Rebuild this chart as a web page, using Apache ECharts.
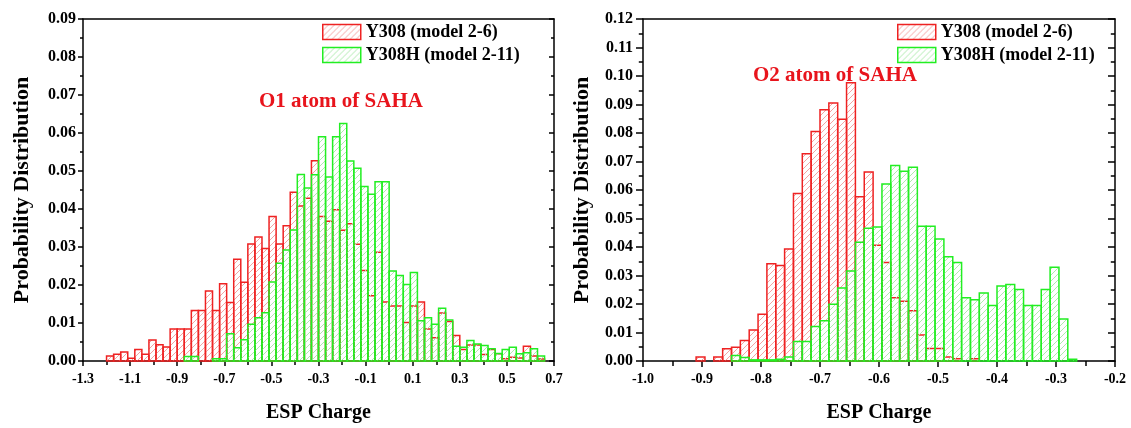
<!DOCTYPE html>
<html><head><meta charset="utf-8">
<script src="https://cdn.jsdelivr.net/npm/echarts@6/dist/echarts.min.js"></script>
<style>html,body{margin:0;padding:0;background:#fff;}#c{width:1131px;height:428px;}</style>
</head><body><div id="c"></div>
<script>
// ---- data ----
const seriesNames = ['Y308 (model 2-6)', 'Y308H (model 2-11)'];
const panelTitles = ['O1 atom of SAHA', 'O2 atom of SAHA'];
const xAxisName = 'ESP Charge';
const yAxisName = 'Probability Distribution';

// O1 panel: histogram bins start at -1.2, width 0.03
const o1BinStart = -1.2, o1BinWidth = 0.03;
const o1Y308 = [0.0013,0.0018,0.0024,0.0007,0.0030,0.0018,0.0055,0.0043,0.0037,0.0084,
  0.0084,0.0084,0.0133,0.0133,0.0184,0.0133,0.0203,0.0154,0.0268,0.0207,
  0.0308,0.0326,0.0296,0.0380,0.0308,0.0356,0.0444,0.0408,0.0428,0.0527,
  0.0380,0.0368,0.0398,0.0344,0.0361,0.0307,0.0238,0.0172,0.0286,0.0155,
  0.0145,0.0145,0.0101,0.0145,0.0155,0.0084,0.0061,0.0126,0.0104,0.0067,
  0.0030,0.0042,0.0042,0.0017,0.0030,0.0019,0.0006,0.0010,0.0008,0.0039,
  0.0013,0.0005];
const o1Y308H = [0,0,0,0,0,0,0,0,0,0,
  0,0.0012,0.0012,0,0,0.0006,0.0006,0.0072,0.0035,0.0056,
  0.0097,0.0114,0.0127,0.0208,0.0257,0.0292,0.0345,0.0491,0.0455,0.0490,
  0.0590,0.0484,0.0590,0.0625,0.0526,0.0507,0.0459,0.0439,0.0472,0.0472,
  0.0237,0.0225,0.0201,0.0233,0.0106,0.0114,0.0097,0.0139,0.0108,0.0039,
  0.0036,0.0054,0.0045,0.0041,0.0032,0.0020,0.0030,0.0036,0.0019,0.0022,
  0.0032,0.0013];
const o1XTicks = [-1.3,-1.1,-0.9,-0.7,-0.5,-0.3,-0.1,0.1,0.3,0.5,0.7];
const o1YTicks = [0,0.01,0.02,0.03,0.04,0.05,0.06,0.07,0.08,0.09];

// O2 panel: bins start at -0.91, width 0.015
const o2BinStart = -0.91, o2BinWidth = 0.015;
const o2Y308 = [0.0014,0,0.0014,0.0043,0.0048,0.0072,0.0109,0.0164,0.0341,0.0335,
  0.0393,0.0588,0.0727,0.0805,0.0882,0.0905,0.0848,0.0976,0.0576,0.0663,
  0.0406,0.0346,0.0222,0.0210,0.0176,0.0091,0.0044,0.0044,0.0014,0.0008,
  0,0.0008,0,0,0,0,0,0,0,0,0,0,0];
const o2Y308H = [0,0,0,0,0.0019,0.0012,0.0004,0.0004,0.0004,0.0006,
  0.0014,0.0068,0.0068,0.0121,0.0141,0.0199,0.0256,0.0316,0.0417,0.0466,
  0.0470,0.0621,0.0686,0.0666,0.0680,0.0473,0.0473,0.0428,0.0366,0.0346,
  0.0222,0.0215,0.0239,0.0195,0.0263,0.0268,0.0251,0.0195,0.0195,0.0251,
  0.0329,0.0147,0.0006];
const o2XTicks = [-1.0,-0.9,-0.8,-0.7,-0.6,-0.5,-0.4,-0.3,-0.2];
const o2YTicks = [0,0.01,0.02,0.03,0.04,0.05,0.06,0.07,0.08,0.09,0.10,0.11,0.12];

// ---- styling ----
const FONT = "'Liberation Serif','Times New Roman',serif";
const RED = '#ee2222', GREEN = '#22ee22';
function hatch(color){
  const c = document.createElement('canvas'); c.width = 6; c.height = 6;
  const g = c.getContext('2d'); g.strokeStyle = color; g.lineWidth = 1;
  g.beginPath();
  g.moveTo(0,6); g.lineTo(6,0);
  g.moveTo(-1,1); g.lineTo(1,-1);
  g.moveTo(5,7); g.lineTo(7,5);
  g.stroke();
  return {image: c, repeat: 'repeat'};
}
const redFill = hatch('#f4a3a3');
const greenFill = hatch('#aeeaae');

function toBins(start, w, vals){
  return vals.map((v,i)=>[start + i*w, start + (i+1)*w, v]);
}
function renderer(fill, stroke){
  return function(params, api){
    const y = api.value(2);
    if (!y) return null;
    const p0 = api.coord([api.value(0), 0]);
    const p1 = api.coord([api.value(1), y]);
    return {type:'rect', shape:{x:p0[0], y:p1[1], width:p1[0]-p0[0], height:p0[1]-p1[1]},
      style:{fill: fill, stroke: stroke, lineWidth: 1.5}};
  };
}

const grids = [
  {left: 83, top: 19, width: 471, height: 347},
  {left: 643, top: 19, width: 472, height: 347}
];
function xAxes(gi, ticks, step, tickLen, minorCount){
  return [{
    type:'value', gridIndex: gi, min: ticks[0], max: ticks[ticks.length-1], interval: step,
    axisLine:{show:true, onZero:false, lineStyle:{color:'#000', width:1.5}},
    axisTick:{show:true, length: tickLen, lineStyle:{color:'#000', width:1.5}},
    minorTick:{show:true, splitNumber: minorCount, length: tickLen-1, lineStyle:{color:'#000', width:1.5}},
    splitLine:{show:false},
    axisLabel:{margin: 11, color:'#000', fontFamily: FONT, fontWeight:'bold', fontSize: 14,
      formatter: v => v.toFixed(1)},
    name: xAxisName, nameLocation:'middle', nameGap: 42,
    nameTextStyle:{color:'#000', fontFamily: FONT, fontWeight:'bold', fontSize: 20}
  },{
    type:'value', gridIndex: gi, position:'top', min: ticks[0], max: ticks[ticks.length-1],
    axisLine:{show:true, onZero:false, lineStyle:{color:'#000', width:1.5}},
    axisTick:{show:false}, axisLabel:{show:false}, splitLine:{show:false}
  }];
}
function yAxes(gi, ticks, tickLen, margin){
  const base = {
    type:'value', gridIndex: gi, min: ticks[0], max: ticks[ticks.length-1], interval: 0.01,
    splitLine:{show:false},
    axisLine:{show:true, onZero:false, lineStyle:{color:'#000', width:1.5}},
  };
  return [Object.assign({}, base, {
    position:'left',
    axisTick:{show:true, length: tickLen, lineStyle:{color:'#000', width:1.5}},
    minorTick:{show:true, splitNumber:2, length: tickLen*0.6, lineStyle:{color:'#000', width:1.5}},
    axisLabel:{margin: margin, color:'#000', fontFamily: FONT, fontWeight:'bold', fontSize: 16,
      formatter: v => v.toFixed(2)},
    name: yAxisName, nameLocation:'middle', nameGap: 50,
    nameTextStyle:{color:'#000', fontFamily: FONT, fontWeight:'bold', fontSize: 22}
  }), Object.assign({}, base, {
    position:'right',
    axisTick:{show:true, inside:true, length: tickLen, lineStyle:{color:'#000', width:1.5}},
    minorTick:{show:true, splitNumber:2, length: tickLen*0.6, lineStyle:{color:'#000', width:1.5}},
    axisLabel:{show:false}
  })];
}

const xs = [...xAxes(0, o1XTicks, 0.2, 5, 2), ...xAxes(1, o2XTicks, 0.1, 6, 2)];
const ys = [...yAxes(0, o1YTicks, 5, 7), ...yAxes(1, o2YTicks, 7, 10)];

function series(name, data, xi, yi, fill, stroke){
  return {type:'custom', name: name, xAxisIndex: xi, yAxisIndex: yi, data: data,
    encode:{x:[0,1], y:2}, renderItem: renderer(fill, stroke), silent: true,
    itemStyle:{color: fill, borderColor: stroke, borderWidth: 1.5}};
}

function legend(left){
  return {orient:'vertical', left: left, top: 18, itemWidth: 38, itemHeight: 15, itemGap: 5,
    selectedMode: false,
    textStyle:{color:'#000', fontFamily: FONT, fontWeight:'bold', fontSize: 18},
    data:[
      {name: seriesNames[0], icon:'rect', itemStyle:{color: redFill, borderColor: RED, borderWidth: 1.5}},
      {name: seriesNames[1], icon:'rect', itemStyle:{color: greenFill, borderColor: GREEN, borderWidth: 1.5}}
    ]};
}

const chart = echarts.init(document.getElementById('c'), null, {renderer:'canvas'});
chart.setOption({
  backgroundColor:'#fff',
  animation: false,
  grid: grids,
  xAxis: xs,
  yAxis: ys,
  legend: [legend(317), legend(892)],
  graphic: [
    {type:'text', left: 259, top: 91, style:{text: panelTitles[0], fill: '#e8141c', font: "bold 21px " + FONT}},
    {type:'text', left: 753, top: 65, style:{text: panelTitles[1], fill: '#e8141c', font: "bold 21px " + FONT}}
  ],
  series: [
    series(seriesNames[0], toBins(o1BinStart, o1BinWidth, o1Y308), 0, 0, redFill, RED),
    series(seriesNames[1], toBins(o1BinStart, o1BinWidth, o1Y308H), 0, 0, greenFill, GREEN),
    series(seriesNames[0], toBins(o2BinStart, o2BinWidth, o2Y308), 2, 2, redFill, RED),
    series(seriesNames[1], toBins(o2BinStart, o2BinWidth, o2Y308H), 2, 2, greenFill, GREEN)
  ]
});
</script></body></html>
